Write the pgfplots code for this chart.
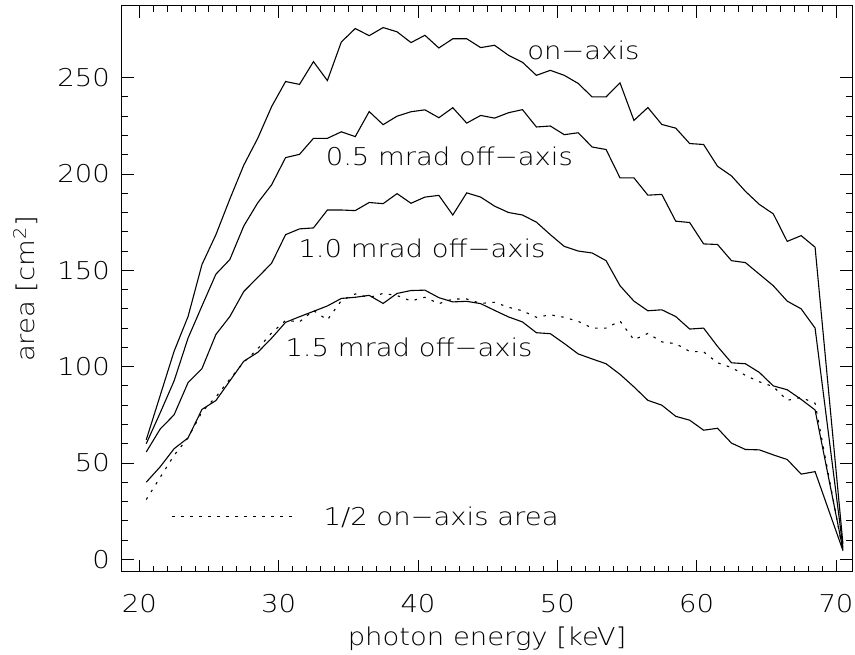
\documentclass[border=0pt]{standalone}
\usepackage{fontspec}
\setmainfont{DejaVu Sans ExtraLight}[FakeStretch=1.12]
\usepackage{pgfplots}
\usepackage{pgfplotstable}
\pgfplotsset{compat=1.18}
\pgfplotstableread{
E     on     half    p5     p10    p15
20.5  62     31      60     55.7   40
21.5  85     42.5    76     67.6   48
22.5  108    54      92.6   75     57.4
23.5  126    63      114.8  91.7   63
24.5  153    76.5    131.5  99     77.8
25.5  168.5  84.25   148    116.7  82.4
26.5  187    93.5    155.6  126    92.6
27.5  204.6  102.3   173    139    102.8
28.5  218.5  109.25  185    146.3  107.4
29.5  235    117.5   194.4  153.7  114.8
30.5  248    124     208.5  168.5  123
31.5  246.5  123.25  210.2  171.5  125.9
32.5  258.3  129.15  218.5  172    128.7
33.5  248.5  124.25  218.5  181.3  131.5
34.5  268.5  134.25  221.9  181.3  135.4
35.5  275.5  137.75  219.4  181    136
36.5  271.8  135.9   232.4  185.2  137
37.5  276    138     225.6  184.6  132.8
38.5  273.8  136.9   230    189.8  138
39.5  268.2  134.1   232.3  184.8  139.5
40.5  272    136     233.3  188    139.7
41.5  265.4  132.7   229.2  188.9  135.8
42.5  270.2  135.1   234.4  178.7  133.6
43.5  270.2  135.1   226.4  190.2  133.9
44.5  265.6  132.8   230.4  188    132.7
45.5  266.8  133.4   229    183.3  129.2
46.5  261.6  130.8   231.8  180    125.8
47.5  258    129     233.4  178.7  123.2
48.5  251.2  125.6   224.4  175    117.6
49.5  253.8  126.9   224.9  168.5  117.1
50.5  251.2  125.6   220.4  162.4  112
51.5  247    123.5   221.4  160    106.6
52.5  240    120     214    159    104
53.5  240    120     212.7  155    101.5
54.5  247.3  123.65  198    142    96
55.5  227.8  113.9   198    134    89.5
56.5  234.5  117.25  189    129    82.5
57.5  225.7  112.85  189.4  129.5  80
58.5  223.8  111.9   175.5  126    74.2
59.5  215.8  107.9   174.8  119.5  72.2
60.5  215.3  107.65  163.7  120    67
61.5  204    102     163.4  110.5  68
62.5  199    99.5    155    102    60.3
63.5  191    95.5    154    101.5  57
64.5  184.2  92.1    148    97     56.8
65.5  179.3  89.65   142    90     54.2
66.5  165    82.5    134    88     51.8
67.5  168    84      130    83     44.2
68.5  162    81      120    77.5   45.5
70.5  8      4       6      5      4.5
}\datatable
\begin{document}
\begin{tikzpicture}[font=\fontsize{24.5}{29}\selectfont]
\useasboundingbox (-122pt,-83pt) rectangle (733pt,572pt);
\begin{axis}[
  at={(0,0)}, anchor=south west,
  scale only axis, width=730pt, height=566pt,
  xmin=18.76, xmax=71.15, ymin=-6.6, ymax=287.2,
  xtick={20,30,40,50,60,70}, ytick={0,50,100,150,200,250},
  minor x tick num=9, minor y tick num=4,
  tick align=inside, xtick pos=both, ytick pos=both,
  major tick length=12pt, minor tick length=6pt,
  every tick/.style={black, line width=0.9pt},
  axis line style={line width=1pt},
  /pgf/number format/assume math mode=true,
  xticklabel style={anchor=base, yshift=-41pt},
  yticklabel style={anchor=east, inner sep=0pt, xshift=-12pt},
  xlabel={photon energy [keV]},
  ylabel={area [cm\textsuperscript{2}]},
  xlabel style={at={(axis description cs:0.5,-0.1307)}, anchor=base},
  ylabel style={at={(axis description cs:-0.1192,0.5)}, anchor=base, rotate=0},
]
\addplot[black, mark=none, line width=1.1pt] table[x=E, y=on] {\datatable};
\addplot[black, mark=none, line width=1.1pt] table[x=E, y=p5] {\datatable};
\addplot[black, mark=none, line width=1.1pt] table[x=E, y=p10] {\datatable};
\addplot[black, mark=none, line width=1.1pt] table[x=E, y=p15] {\datatable};
\addplot[black, mark=none, line width=1.1pt, dash pattern=on 2.5pt off 6.5pt] table[x=E, y=half] {\datatable};
\addplot[black, mark=none, line width=1.1pt, dash pattern=on 3pt off 6pt] coordinates {(22.35,22.2) (30.96,22.2)};
\node[anchor=base] at (axis cs:51.87,259.3) {on−axis};
\node[anchor=base] at (axis cs:42.25,204.5) {0.5 mrad off−axis};
\node[anchor=base] at (axis cs:40.29,156.9) {1.0 mrad off−axis};
\node[anchor=base] at (axis cs:39.36,105) {1.5 mrad off−axis};
\node[anchor=base] at (axis cs:41.66,17.6) {1/2 on−axis area};
\end{axis}
\end{tikzpicture}
\end{document}
